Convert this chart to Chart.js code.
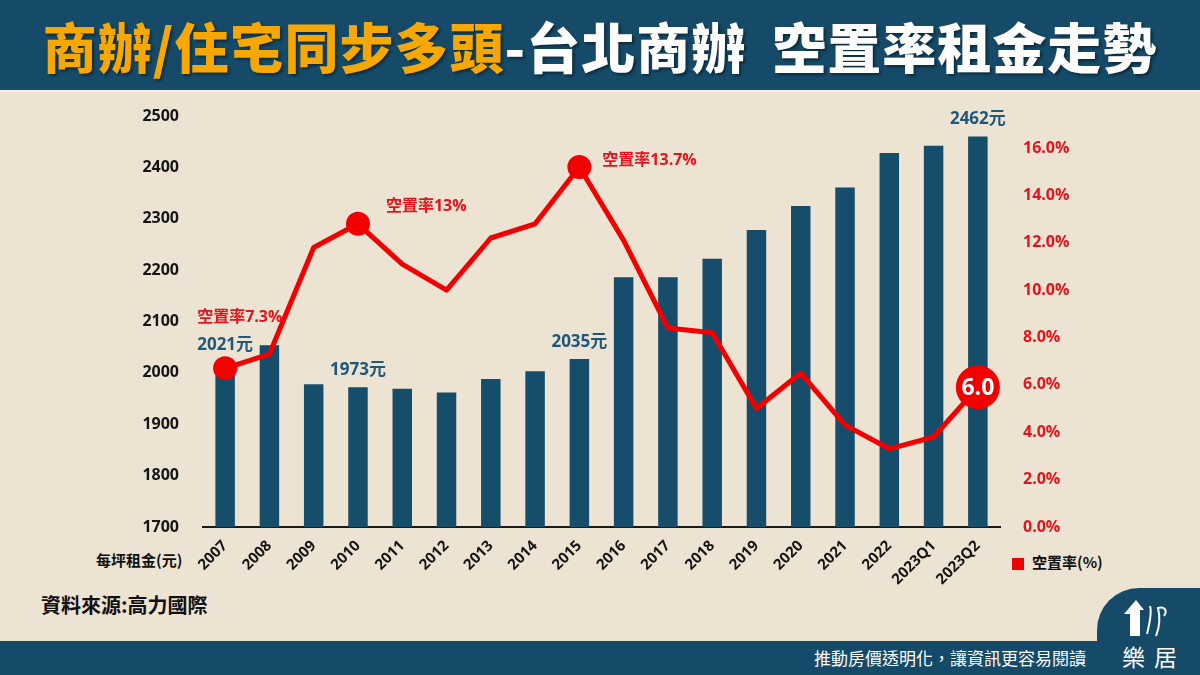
<!DOCTYPE html>
<html lang="zh-Hant">
<head>
<meta charset="utf-8">
<title>台北商辦 空置率租金走勢</title>
<script src="https://cdn.jsdelivr.net/npm/chart.js@4.4.0/dist/chart.umd.min.js"></script>
<style>
  html, body { margin: 0; padding: 0; }
  body {
    width: 1200px; height: 675px; position: relative; overflow: hidden;
    background: #ECE3D3;
    font-family: "Open Sans", "Noto Sans CJK TC", sans-serif;
  }
  .header {
    position: absolute; left: 0; top: 0; width: 1200px; height: 90px;
    background: #154B69; border-bottom: 2px solid #F4EEE3;
    display: flex; align-items: center; justify-content: center;
    font-family: "Noto Sans CJK TC", sans-serif; font-weight: 900; font-size: 54px;
    text-shadow: 2px 2px 3px rgba(0,0,0,0.45); letter-spacing: 1px;
  }
  .header .hl { color: #F6A800; }
  .header .wt { color: #FFFFFF; }
  .header .gap { display: inline-block; width: 26px; }
  .footer {
    position: absolute; left: 0; top: 641px; width: 1200px; height: 34px;
    background: #154B69;
  }
  .tab {
    position: absolute; left: 1097px; top: 588px; width: 103px; height: 87px;
    background: #154B69; border-top-left-radius: 42px;
  }
  .slogan {
    position: absolute; left: 780px; top: 646px; width: 306px; text-align: right;
    color: #fff; font-family: "Noto Sans CJK TC", sans-serif; font-size: 17px; line-height: 24px;
  }
  .brand {
    position: absolute; left: 1122px; top: 641px; color: #fff;
    font-family: "Noto Sans CJK TC", sans-serif; font-size: 23px; line-height: 30px; letter-spacing: 9px;
  }
  .logo { position: absolute; left: 1120px; top: 596px; }
  .source {
    position: absolute; left: 41px; top: 591px; color: #111;
    font-family: "Noto Sans CJK TC", sans-serif; font-weight: 700; font-size: 20px; line-height: 28px;
  }
  .unit {
    position: absolute; left: 96px; top: 548px; color: #111;
    font-family: "Noto Sans CJK TC", sans-serif; font-weight: 700; font-size: 15px; line-height: 24px;
  }
  .legend {
    position: absolute; left: 1012px; top: 550px; color: #111;
    font-family: "Noto Sans CJK TC", sans-serif; font-weight: 700; font-size: 15px; line-height: 24px;
  }
  .legend i {
    display: inline-block; width: 12px; height: 12px; background: #F00000;
    margin-right: 8px; vertical-align: -2px;
  }
  #chart { position: absolute; left: 0; top: 0; }
</style>
</head>
<body>
<div class="header"><span class="hl">商辦/住宅同步多頭</span><span class="wt">-台北商辦<span class="gap"></span>空置率租金走勢</span></div>
<div class="source">資料來源:高力國際</div>
<div class="unit">每坪租金(元)</div>
<div class="legend"><i></i>空置率(%)</div>
<div class="footer"></div>
<div class="tab"></div>
<svg class="logo" width="60" height="46" viewBox="0 0 60 46">
  <path d="M4 18 L16 4 L24 14 L20 14 L20 40 L10 40 L10 18 Z" fill="#fff"/>
  <path d="M27 38 C30 26 32 16 30 10 M36 40 C40 30 40 20 38 12 C44 10 48 14 44 20" stroke="#fff" stroke-width="2" fill="none"/>
</svg>
<div class="slogan">推動房價透明化，讓資訊更容易閱讀</div>
<div class="brand">樂居</div>
<canvas id="chart" width="1200" height="675"></canvas>

<script>
// categories
const CATEGORIES = ['2007','2008','2009','2010','2011','2012','2013','2014','2015',
                    '2016','2017','2018','2019','2020','2021','2022','2023Q1','2023Q2'];

// 每坪租金 (元)
const RENT = [2021, 2054, 1978, 1972, 1969, 1962, 1988, 2003, 2027,
              2186, 2186, 2222, 2278, 2325, 2361, 2428, 2442, 2460];

// 空置率 (%)
const VACANCY = [6.7, 7.3, 11.8, 12.8, 11.1, 10.0, 12.2, 12.8, 15.2,
                 12.1, 8.4, 8.2, 5.0, 6.5, 4.3, 3.3, 3.8, 5.9];

// callouts
const RENT_NOTE_IDX = [0, 3, 8, 17];
const RENT_NOTE_TEXT = ['2021元', '1973元', '2035元', '2462元'];
const VAC_NOTE_IDX = [0, 3, 8];
const VAC_NOTE_TEXT = ['空置率7.3%', '空置率13%', '空置率13.7%'];
const VAC_LAST_TEXT = '6.0';

// axis ticks
const RENT_TICKS = [1700, 1800, 1900, 2000, 2100, 2200, 2300, 2400, 2500];
const VAC_TICKS = [0, 2, 4, 6, 8, 10, 12, 14, 16];

const COLORS = {
  bar: '#154D6B',
  line: '#F20000',
  red: '#E5141B',
  note: '#1F5878',
  tick: '#151515'
};

// label offsets relative to the point (layout only)
const VAC_NOTE_OFFSET = [[-28, -51], [28, -17], [23, -6]];

const FONT = '"Open Sans", "Noto Sans CJK TC", sans-serif';

const notesPlugin = {
  id: 'notes',
  afterDatasetsDraw(chart) {
    const { ctx, scales } = chart;
    const x = scales.x, yl = scales.rent, yr = scales.vac;
    ctx.save();
    ctx.textBaseline = 'middle';

    ctx.font = `700 17px ${FONT}`;
    ctx.fillStyle = COLORS.note;
    ctx.textAlign = 'center';
    RENT_NOTE_IDX.forEach((i, k) => {
      ctx.fillText(RENT_NOTE_TEXT[k], x.getPixelForValue(i), yl.getPixelForValue(RENT[i]) - 17);
    });

    ctx.font = `700 16px ${FONT}`;
    ctx.fillStyle = COLORS.red;
    ctx.textAlign = 'left';
    VAC_NOTE_IDX.forEach((i, k) => {
      const [dx, dy] = VAC_NOTE_OFFSET[k];
      ctx.fillText(VAC_NOTE_TEXT[k], x.getPixelForValue(i) + dx, yr.getPixelForValue(VACANCY[i]) + dy);
    });

    const last = VACANCY.length - 1;
    ctx.font = `700 23px ${FONT}`;
    ctx.fillStyle = '#FFFFFF';
    ctx.textAlign = 'center';
    ctx.fillText(VAC_LAST_TEXT, x.getPixelForValue(last), yr.getPixelForValue(VACANCY[last]) + 1);
    ctx.restore();
  }
};

const pointRadius = CATEGORIES.map((_, i) =>
  i === CATEGORIES.length - 1 ? 22 : (VAC_NOTE_IDX.includes(i) ? 12 : 0));

new Chart(document.getElementById('chart').getContext('2d'), {
  data: {
    labels: CATEGORIES,
    datasets: [
      {
        type: 'line',
        label: '空置率(%)',
        data: VACANCY,
        yAxisID: 'vac',
        order: 0,
        borderColor: COLORS.line,
        backgroundColor: COLORS.line,
        borderWidth: 5,
        tension: 0,
        borderJoinStyle: 'round',
        pointRadius,
        pointBorderWidth: 0,
        pointBackgroundColor: COLORS.line
      },
      {
        type: 'bar',
        label: '每坪租金(元)',
        data: RENT,
        yAxisID: 'rent',
        order: 1,
        backgroundColor: COLORS.bar,
        categoryPercentage: 1,
        barPercentage: 0.44
      }
    ]
  },
  options: {
    responsive: false,
    animation: false,
    layout: { padding: { top: 116, left: 0, right: 0, bottom: 0 } },
    plugins: { legend: { display: false }, tooltip: { enabled: false } },
    scales: {
      x: {
        grid: { display: false },
        border: { display: true, color: '#1A1A1A', width: 2 },
        ticks: {
          color: COLORS.tick, autoSkip: false, minRotation: 45, maxRotation: 45, padding: 2,
          font: { family: FONT, weight: '700', size: 15 }
        },
        afterFit(s) { s.height = 148; s.paddingLeft = 0; s.paddingRight = 0; }
      },
      rent: {
        type: 'linear', position: 'left', min: 1700, max: 2500,
        grid: { display: false },
        border: { display: false },
        afterBuildTicks(s) { s.ticks = RENT_TICKS.map(v => ({ value: v })); },
        ticks: {
          color: COLORS.tick, padding: 16,
          font: { family: FONT, weight: '700', size: 16 },
          callback: v => String(v)
        },
        afterFit(s) { s.width = 203; s.paddingTop = 0; s.paddingBottom = 0; }
      },
      vac: {
        type: 'linear', position: 'right', min: 0, max: 17.35,
        grid: { display: false },
        border: { display: false },
        afterBuildTicks(s) { s.ticks = VAC_TICKS.map(v => ({ value: v })); },
        ticks: {
          color: COLORS.red, padding: 15,
          font: { family: FONT, weight: '700', size: 16 },
          callback: v => v.toFixed(1) + '%'
        },
        afterFit(s) { s.width = 200; s.paddingTop = 0; s.paddingBottom = 0; }
      }
    }
  },
  plugins: [notesPlugin]
});
</script>
</body>
</html>
